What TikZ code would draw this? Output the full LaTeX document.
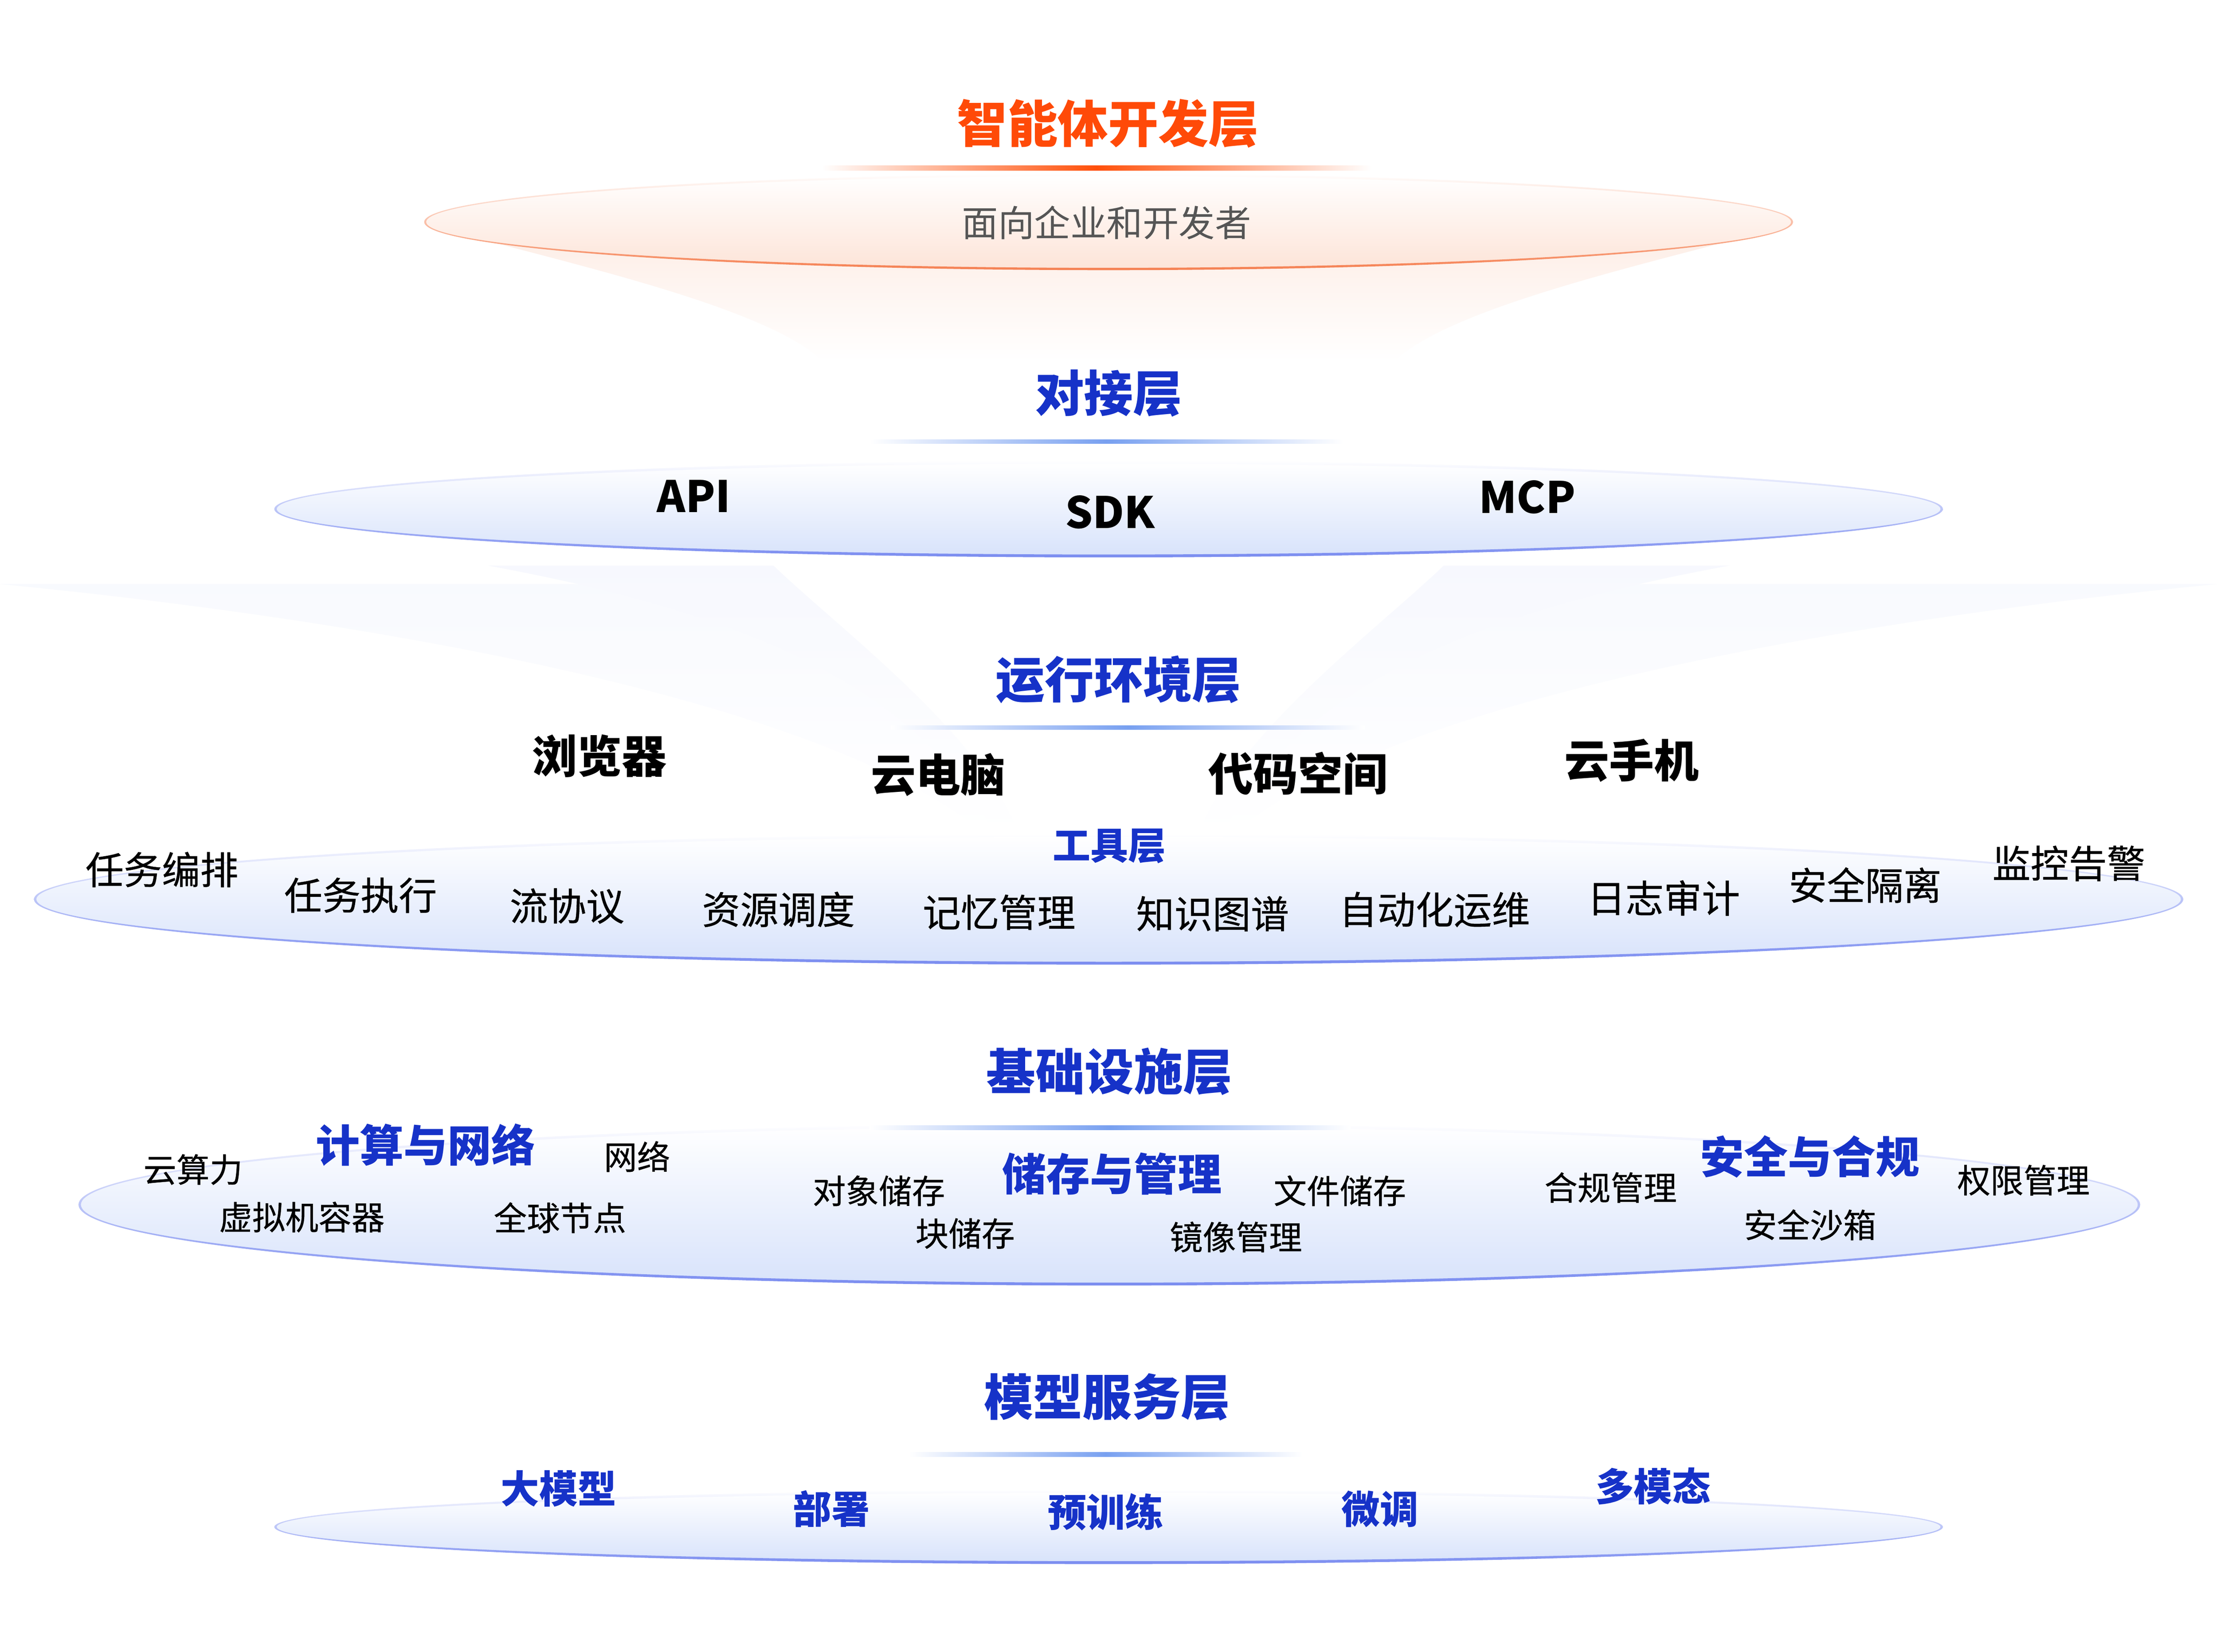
\documentclass[tikz,border=0pt]{standalone}
\usepackage{fontspec}
\setmainfont{Noto Sans CJK SC}
\newfontfamily\medfont[FakeBold=0.5]{Noto Sans CJK SC}
\definecolor{ttlorange}{RGB}{255,74,8}
\definecolor{ttlblue}{RGB}{22,50,200}
\definecolor{subgray}{RGB}{85,85,85}
\definecolor{orstroke}{RGB}{245,128,82}
\definecolor{orfill}{RGB}{253,228,216}
\definecolor{orfunnel}{RGB}{253,236,228}
\definecolor{orline}{RGB}{255,80,10}
\definecolor{blstroke}{RGB}{122,140,240}
\definecolor{blfill}{RGB}{216,227,251}
\definecolor{blline}{RGB}{120,160,240}
\definecolor{funA}{RGB}{240,243,253}
\definecolor{funB}{RGB}{235,238,252}
\definecolor{funC}{RGB}{229,233,251}
\begin{document}
\begin{tikzpicture}[x=0.03923cm, y=-0.03923cm,
  cjkbase/.style={inner sep=0pt, anchor=center},
  toptitle/.style={cjkbase, font=\fontsize{39.5}{40}\selectfont\bfseries, text=ttlorange, text height=32.8pt, text depth=2.8pt},
  subtitle/.style={cjkbase, font=\fontsize{28.4}{30}\selectfont, text=subgray, text height=23.6pt, text depth=2pt},
  layertitle/.style={cjkbase, font=\fontsize{38.6}{40}\selectfont\bfseries, text=ttlblue, text height=32pt, text depth=2.7pt},
  latinlbl/.style={inner sep=0pt, anchor=center, font=\fontsize{34}{36}\selectfont\bfseries, text=black, text height=24.9pt, text depth=0pt},
  envlbl/.style={cjkbase, font=\fontsize{35.2}{37}\selectfont\bfseries, text=black, text height=29.2pt, text depth=2.5pt},
  toolttl/.style={cjkbase, font=\fontsize{29.6}{31}\selectfont\bfseries, text=ttlblue, text height=24.6pt, text depth=2.1pt},
  toollbl/.style={cjkbase, font=\medfont\fontsize{30}{32}\selectfont, text=black, text height=24.9pt, text depth=2.1pt},
  grouplbl/.style={cjkbase, font=\fontsize{34.5}{36}\selectfont\bfseries, text=ttlblue, text height=28.6pt, text depth=2.4pt},
  smalllbl/.style={cjkbase, font=\medfont\fontsize{26}{28}\selectfont, text=black, text height=21.6pt, text depth=1.8pt},
  modellbl/.style={cjkbase, font=\fontsize{30.2}{32}\selectfont\bfseries, text=ttlblue, text height=25.1pt, text depth=2.1pt},
  orring/.style={even odd rule, top color=white, bottom color=orstroke},
  blring/.style={even odd rule, top color=white, bottom color=blstroke},
  ordisc/.style={top color=white, bottom color=orfill},
  bldisc/.style={top color=white, bottom color=blfill},
  orbar/.style={left color=white, right color=white, middle color=orline},
  blbar/.style={left color=white, right color=white, middle color=blline}
]
\useasboundingbox (0,0) rectangle (1560,1162.35);
\fill[white] (0,0) rectangle (1560,1162.35);

\begin{scope}[xscale=0.995]
% ---- funnels ----
\shade[top color=orfunnel, bottom color=white] (301,158) .. controls (400,185) and (540,215) .. (582,254) -- (986,254) .. controls (1028,215) and (1168,185) .. (1267,158) -- cycle;
\shade[top color=white!55!funA, middle color=funA, bottom color=white] (0,411) .. controls (300,440) and (600,500) .. (700,590) -- (868,590) .. controls (968,500) and (1268,440) .. (1568,411) -- cycle;
\shade[top color=white!60!funB, middle color=funB, bottom color=white] (345,398) .. controls (520,430) and (650,480) .. (705,590) -- (863,590) .. controls (918,480) and (1048,430) .. (1223,398) -- cycle;
\shade[top color=white, middle color=funC, bottom color=white] (545,396) .. controls (590,440) and (700,520) .. (722,592) -- (846,592) .. controls (868,520) and (978,440) .. (1023,396) -- cycle;

% ---- layer discs ----
\shade[ordisc] (784,156.2) ellipse (483 and 32.8);
\shade[orring] (784,156.2) ellipse (484 and 33.9) (784,156.2) ellipse (482.6 and 32.3);

\shade[bldisc] (784,358.2) ellipse (589 and 32.8);
\shade[blring] (784,358.2) ellipse (590 and 34) (784,358.2) ellipse (588.3 and 32);

\shade[bldisc] (784,632.8) ellipse (759 and 44.8);
\shade[blring] (784,632.8) ellipse (760 and 46) (784,632.8) ellipse (758.3 and 44);

\shade[bldisc] (784.5,847.7) ellipse (728 and 55.7);
\shade[blring] (784.5,847.7) ellipse (729 and 56.9) (784.5,847.7) ellipse (727.3 and 54.9);

\shade[bldisc] (784,1074.5) ellipse (589 and 24.9);
\shade[blring] (784,1074.5) ellipse (590 and 26.1) (784,1074.5) ellipse (588.3 and 24.1);

% ---- title underlines ----
\shade[orbar] (581,116.5) rectangle (970,120);
\shade[blbar] (615,309.2) rectangle (950,312.2);
\shade[blbar] (630,510.5) rectangle (965,513.5);
\shade[blbar] (615,792) rectangle (955,795);
\shade[blbar] (643,1022) rectangle (921,1025);

% ---- texts ----
\node[toptitle] (t1) at (783.6,87) {智能体开发层};
\node[subtitle] (s1) at (782.6,156.7) {面向企业和开发者};

\node[layertitle] (t2) at (784,276.7) {对接层};
\node[latinlbl] (api) at (490.6,349.5) {API};
\node[latinlbl] (sdk) at (785,360.7) {SDK};
\node[latinlbl] (mcp) at (1080,350) {MCP};

\node[layertitle] (t3) at (791,478) {运行环境层};
\node[envlbl] (e1) at (424,532) {浏览器};
\node[envlbl] (e2) at (663.5,545) {云电脑};
\node[envlbl] (e3) at (918,544.5) {代码空间};
\node[envlbl] (e4) at (1154,535) {云手机};

\node[toolttl] (t4) at (784.5,594.7) {工具层};
\node[toollbl] (k1) at (114.5,612) {任务编排};
\node[toollbl] (k2) at (255,630) {任务执行};
\node[toollbl] (k3) at (401,637.5) {流协议};
\node[toollbl] (k4) at (550.5,640) {资源调度};
\node[toollbl] (k5) at (706.5,642) {记忆管理};
\node[toollbl] (k6) at (857.5,643) {知识图谱};
\node[toollbl] (k7) at (1014.5,640) {自动化运维};
\node[toollbl] (k8) at (1176.5,632) {日志审计};
\node[toollbl] (k9) at (1319,623) {安全隔离};
\node[toollbl] (k10) at (1463,607.5) {监控告警};

\node[layertitle] (t5) at (784.5,754) {基础设施层};
\node[grouplbl] (g1) at (301,805.8) {计算与网络};
\node[grouplbl] (g2) at (786.5,826) {储存与管理};
\node[grouplbl] (g3) at (1280,814) {安全与合规};
\node[smalllbl] (i1) at (136.5,823) {云算力};
\node[smalllbl] (i2) at (450.5,814) {网络};
\node[smalllbl] (i3) at (213.5,856.5) {虚拟机容器};
\node[smalllbl] (i4) at (396,857) {全球节点};
\node[smalllbl] (i5) at (621.5,838) {对象储存};
\node[smalllbl] (i6) at (682.5,868) {块储存};
\node[smalllbl] (i7) at (947.5,838) {文件储存};
\node[smalllbl] (i8) at (874,870.5) {镜像管理};
\node[smalllbl] (i9) at (1139,835.7) {合规管理};
\node[smalllbl] (i10) at (1431,830.5) {权限管理};
\node[smalllbl] (i11) at (1280,862) {安全沙箱};

\node[layertitle] (t6) at (783,983) {模型服务层};
\node[modellbl] (m1) at (395,1047.6) {大模型};
\node[modellbl] (m2) at (588,1062) {部署};
\node[modellbl] (m3) at (782,1064) {预训练};
\node[modellbl] (m4) at (976,1062) {微调};
\node[modellbl] (m5) at (1169,1046) {多模态};
\end{scope}
\end{tikzpicture}
\end{document}
